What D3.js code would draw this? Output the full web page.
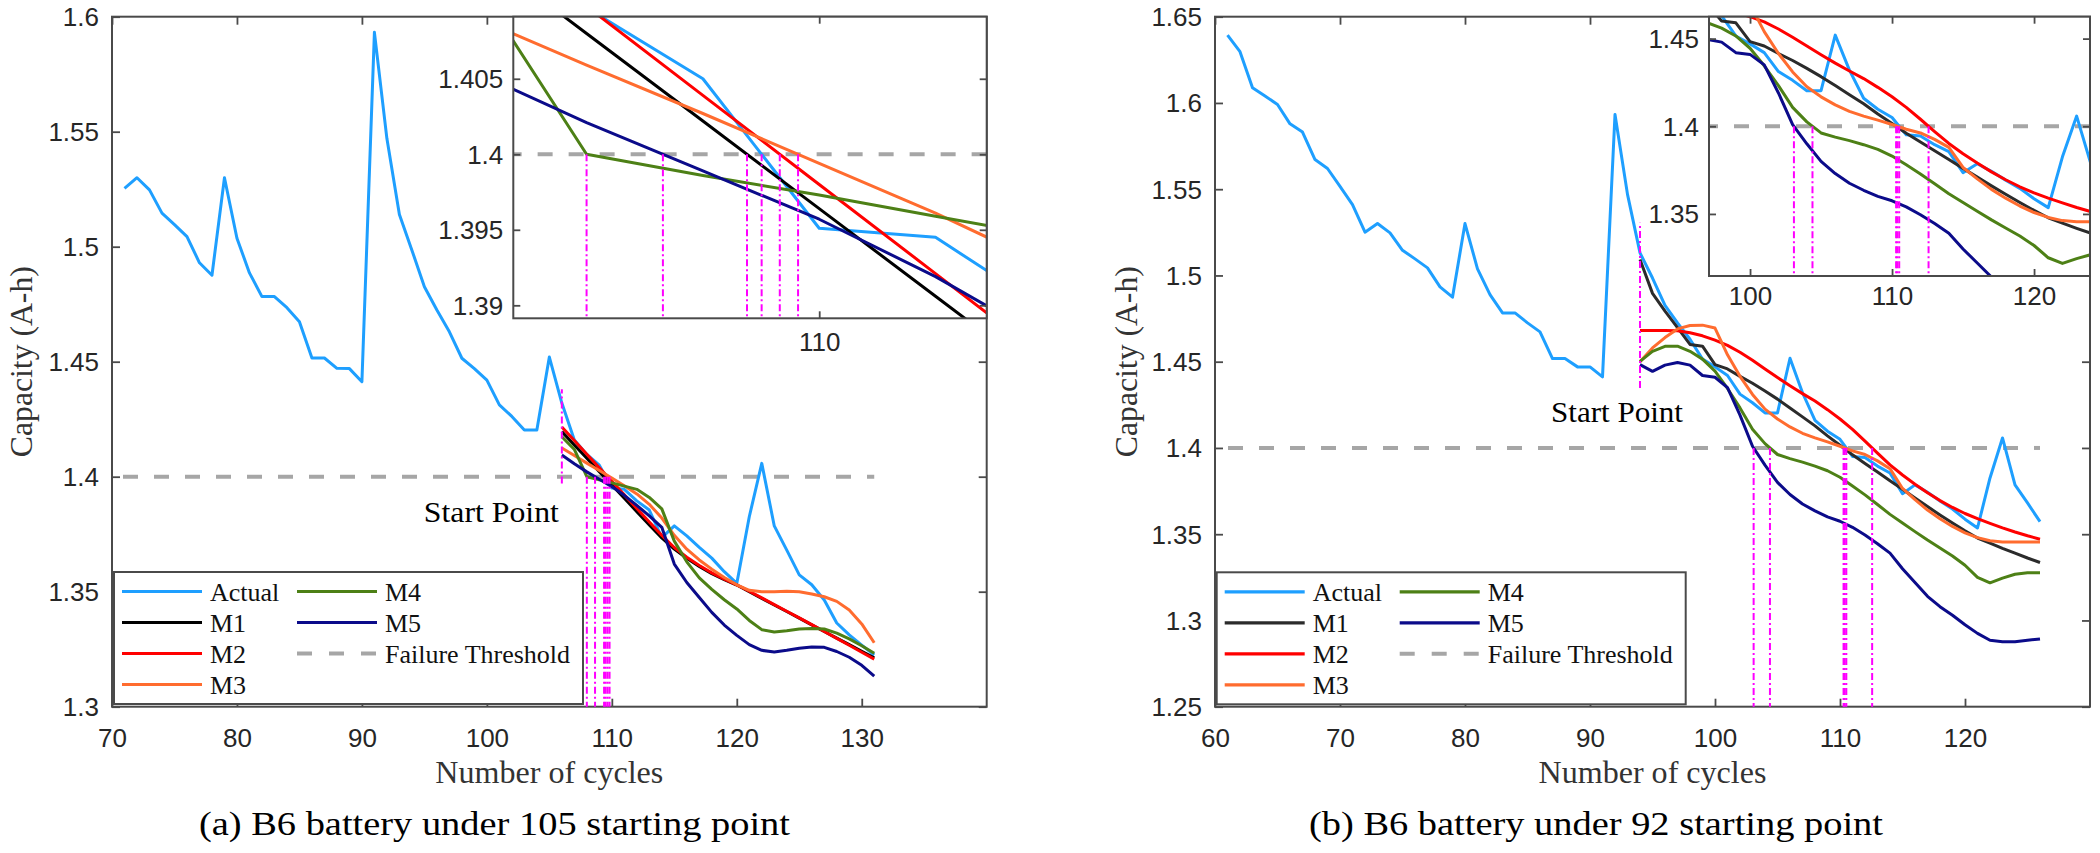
<!DOCTYPE html>
<html>
<head>
<meta charset="utf-8">
<script src="https://cdn.jsdelivr.net/npm/d3@7"></script>
<style>
  body { margin: 0; background: #fff; }
  svg { display: block; }
</style>
</head>
<body>
<svg id="chart" width="2100" height="853"></svg>
<script>
// ---------------- data ----------------
var seriesNames = ["Actual", "M1", "M2", "M3", "M4", "M5"];
var failureThreshold = 1.4;

// (a) start point 105 : actual capacity from cycle 71, models from cycle 106
var actualStartA = 71;
var actualA = [1.5254, 1.5300, 1.5247, 1.5146, 1.5096, 1.5044, 1.4930, 1.4876, 1.5300, 1.5037,
  1.4886, 1.4783, 1.4783, 1.4735, 1.4674, 1.4516, 1.4516, 1.4471, 1.4470, 1.4413,
  1.5932, 1.5470, 1.5140, 1.4985, 1.4826, 1.4725, 1.4630, 1.4515, 1.4470, 1.4420,
  1.4312, 1.4262, 1.4203, 1.4203, 1.4520, 1.4320, 1.4160, 1.4097, 1.4050, 1.3951,
  1.3945, 1.3895, 1.3855, 1.3735, 1.3786, 1.3743, 1.3693, 1.3646, 1.3587, 1.3536,
  1.3826, 1.4058, 1.3786, 1.3681, 1.3573, 1.3530, 1.3464, 1.3364, 1.3312, 1.3268, 1.3225];
var modelStartA = 106;
var m1A = [1.4196, 1.4138, 1.4080, 1.4022, 1.3964, 1.3906, 1.3848, 1.3790, 1.3734, 1.3685, 1.3645, 1.3610, 1.3578,
  1.3552, 1.3529, 1.3500, 1.3471, 1.3442, 1.3414, 1.3385, 1.3356, 1.3327, 1.3298, 1.3270, 1.3241, 1.3212];
var m2A = [1.4216, 1.4157, 1.4098, 1.4039, 1.3980, 1.3921, 1.3862, 1.3803, 1.3745, 1.3692, 1.3650, 1.3614, 1.3582,
  1.3555, 1.3530, 1.3502, 1.3473, 1.3444, 1.3415, 1.3386, 1.3357, 1.3327, 1.3297, 1.3267, 1.3237, 1.3207];
var m3A = [1.4125, 1.4092, 1.4059, 1.4027, 1.3994, 1.3961, 1.3925, 1.3880, 1.3820, 1.3745, 1.3685, 1.3638, 1.3598,
  1.3562, 1.3530, 1.3506, 1.3500, 1.3500, 1.3502, 1.3500, 1.3490, 1.3478, 1.3458, 1.3420, 1.3360, 1.3278];
var m4A = [1.4174, 1.4119, 1.4000, 1.3986, 1.3973, 1.3959, 1.3945, 1.3910, 1.3860, 1.3720, 1.3630, 1.3560, 1.3510,
  1.3465, 1.3425, 1.3375, 1.3335, 1.3325, 1.3330, 1.3338, 1.3340, 1.3338, 1.3320, 1.3295, 1.3265, 1.3232];
var m5A = [1.4094, 1.4056, 1.4021, 1.3989, 1.3957, 1.3919, 1.3875, 1.3830, 1.3780, 1.3620, 1.3540, 1.3475, 1.3410,
  1.3355, 1.3310, 1.3270, 1.3245, 1.3238, 1.3245, 1.3254, 1.3260, 1.3258, 1.3240, 1.3215, 1.3180, 1.3133];
var startLineA = [1.397, 1.438];

// (b) start point 92 : actual capacity from cycle 61, models from cycle 94
var actualStartB = 61;
var actualB = [1.6393, 1.6297, 1.6088, 1.6040, 1.5991, 1.5879, 1.5831, 1.5672, 1.5620, 1.5517,
  1.5411, 1.5251, 1.5301, 1.5247, 1.5146, 1.5096, 1.5044, 1.4934, 1.4874, 1.5301,
  1.5038, 1.4889, 1.4783, 1.4783, 1.4725, 1.4673, 1.4518, 1.4518, 1.4470, 1.4470,
  1.4412, 1.5933, 1.5470, 1.5131, 1.4985, 1.4826, 1.4725, 1.4630, 1.4515, 1.4470,
  1.4420, 1.4312, 1.4262, 1.4203, 1.4203, 1.4520, 1.4320, 1.4160, 1.4097, 1.4050,
  1.3951, 1.3945, 1.3895, 1.3855, 1.3735, 1.3786, 1.3743, 1.3693, 1.3646, 1.3587,
  1.3536, 1.3826, 1.4058, 1.3786, 1.3681, 1.3573];
var modelStartB = 94;
var m1B = [1.5092, 1.4896, 1.4793, 1.4698, 1.4600, 1.4590, 1.4483, 1.4458, 1.4415, 1.4375, 1.4330, 1.4283, 1.4232,
  1.4180, 1.4128, 1.4070, 1.4016, 1.3960, 1.3910, 1.3860, 1.3810, 1.3760, 1.3710, 1.3660, 1.3612, 1.3565,
  1.3520, 1.3478, 1.3448, 1.3418, 1.3390, 1.3362, 1.3336];
var m2B = [1.4681, 1.4681, 1.4681, 1.4680, 1.4668, 1.4650, 1.4625, 1.4595, 1.4555, 1.4508, 1.4458, 1.4408, 1.4360,
  1.4315, 1.4272, 1.4222, 1.4168, 1.4108, 1.4040, 1.3970, 1.3902, 1.3843, 1.3790, 1.3740, 1.3695, 1.3655,
  1.3620, 1.3590, 1.3563, 1.3537, 1.3513, 1.3491, 1.3471];
var m3B = [1.4500, 1.4580, 1.4640, 1.4690, 1.4710, 1.4712, 1.4695, 1.4540, 1.4415, 1.4310, 1.4225, 1.4168, 1.4122,
  1.4085, 1.4058, 1.4035, 1.4010, 1.3983, 1.3962, 1.3925, 1.3880, 1.3765, 1.3700, 1.3640, 1.3590, 1.3545,
  1.3508, 1.3480, 1.3462, 1.3455, 1.3455, 1.3455, 1.3455];
var m4B = [1.4502, 1.4560, 1.4589, 1.4590, 1.4560, 1.4515, 1.4445, 1.4345, 1.4232, 1.4108, 1.4025, 1.3962, 1.3938,
  1.3918, 1.3895, 1.3868, 1.3830, 1.3780, 1.3728, 1.3672, 1.3615, 1.3565, 1.3515, 1.3466, 1.3420, 1.3374,
  1.3320, 1.3250, 1.3218, 1.3245, 1.3268, 1.3277, 1.3277];
var m5B = [1.4483, 1.4444, 1.4480, 1.4495, 1.4480, 1.4420, 1.4410, 1.4350, 1.4190, 1.4010, 1.3900, 1.3800, 1.3730,
  1.3675, 1.3635, 1.3600, 1.3575, 1.3540, 1.3495, 1.3445, 1.3390, 1.3300, 1.3220, 1.3140, 1.3080, 1.3030,
  1.2975, 1.2925, 1.2885, 1.2877, 1.2877, 1.2885, 1.2893];
var startLineB = [1.4348, 1.5305];

// axis ticks
var xTicksA = [70, 80, 90, 100, 110, 120, 130];
var yTicksA = [1.3, 1.35, 1.4, 1.45, 1.5, 1.55, 1.6];
var xTicksB = [60, 70, 80, 90, 100, 110, 120];
var yTicksB = [1.25, 1.3, 1.35, 1.4, 1.45, 1.5, 1.55, 1.6, 1.65];
var insetXTicksA = [110];
var insetYTicksA = [1.39, 1.395, 1.4, 1.405];
var insetXTicksB = [100, 110, 120];
var insetYTicksB = [1.35, 1.4, 1.45];

var captionA = "(a) B6 battery under 105 starting point";
var captionB = "(b) B6 battery under 92 starting point";

// ---------------- drawing ----------------
var colorsA = ["#1e9fff", "#000000", "#ff0000", "#ff6c2f", "#4d8016", "#0b0b8a"];
var colorsB = ["#1e9fff", "#2b2b2b", "#ff0000", "#ff6c2f", "#4d8016", "#0b0b8a"];
var axisColor = "#4a4a4a";
var labelColor = "#262626";
var sansFont = "'Liberation Sans', Arial, sans-serif";
var serifFont = "'Liberation Serif', 'Times New Roman', serif";

var svg = d3.select("#chart");

function toPoints(start, values) {
  return values.map(function (v, i) { return [start + i, v]; });
}

function firstCrossing(pts, level) {
  for (var i = 1; i < pts.length; i++) {
    var a = pts[i - 1], b = pts[i];
    if (a[1] >= level && b[1] < level) {
      return a[0] + (a[1] - level) / (a[1] - b[1]) * (b[0] - a[0]);
    }
  }
  return null;
}

var fmt = function (d) { return String(+d.toFixed(3)); };

// box with inward ticks on four sides
function drawFrame(g, x, y, xt, yt, o) {
  var r = x.range(), t = y.range();
  g.append("rect")
    .attr("x", r[0]).attr("y", t[1])
    .attr("width", r[1] - r[0]).attr("height", t[0] - t[1])
    .attr("fill", o.fill || "none");

  var bottom = g.append("g").attr("transform", "translate(0," + t[0] + ")")
    .call(d3.axisBottom(x).tickValues(xt).tickFormat(fmt).tickSizeInner(-o.tick).tickSizeOuter(0).tickPadding(o.xPad));
  var top = g.append("g").attr("transform", "translate(0," + t[1] + ")")
    .call(d3.axisTop(x).tickValues(xt).tickFormat("").tickSizeInner(-o.tick).tickSizeOuter(0));
  var left = g.append("g").attr("transform", "translate(" + r[0] + ",0)")
    .call(d3.axisLeft(y).tickValues(yt).tickFormat(fmt).tickSizeInner(-o.tick).tickSizeOuter(0).tickPadding(o.yPad));
  var right = g.append("g").attr("transform", "translate(" + r[1] + ",0)")
    .call(d3.axisRight(y).tickValues(yt).tickFormat("").tickSizeInner(-o.tick).tickSizeOuter(0));

  [bottom, top, left, right].forEach(function (a) {
    a.select(".domain").remove();
    a.selectAll("line").attr("stroke", axisColor).attr("stroke-width", 1.8);
    a.selectAll("text").attr("font-family", sansFont).attr("font-size", 26).attr("fill", labelColor);
  });
  left.selectAll("text").attr("dy", "0.34em");

  g.append("rect")
    .attr("x", r[0]).attr("y", t[1])
    .attr("width", r[1] - r[0]).attr("height", t[0] - t[1])
    .attr("fill", "none").attr("stroke", axisColor).attr("stroke-width", 2);
}

function drawContent(g, x, y, p, dashOffset) {
  var line = d3.line().x(function (d) { return x(d[0]); }).y(function (d) { return y(d[1]); });

  g.append("path")
    .attr("d", line([[p.thresholdFrom, failureThreshold], [p.thresholdTo, failureThreshold]]))
    .attr("stroke", "#a6a6a6").attr("stroke-width", 4)
    .attr("stroke-dasharray", "15,16").attr("stroke-dashoffset", dashOffset)
    .attr("fill", "none");

  p.series.forEach(function (s, i) {
    g.append("path").attr("d", line(s))
      .attr("fill", "none").attr("stroke", p.colors[i])
      .attr("stroke-width", 3).attr("stroke-linejoin", "round");
  });

  var yLow = y.domain()[0];
  p.series.forEach(function (s) {
    var c = firstCrossing(s, failureThreshold);
    if (c === null) return;
    g.append("path").attr("d", line([[c, failureThreshold], [c, yLow]]))
      .attr("stroke", "#ff00ff").attr("stroke-width", 2)
      .attr("stroke-dasharray", "7,3,2,3").attr("fill", "none");
  });
}

function drawPanel(p) {
  var g = svg.append("g");
  var x = d3.scaleLinear().domain(p.xDomain).range([p.left, p.right]);
  var y = d3.scaleLinear().domain(p.yDomain).range([p.bottom, p.top]);
  var line = d3.line().x(function (d) { return x(d[0]); }).y(function (d) { return y(d[1]); });

  drawFrame(g, x, y, p.xTicks, p.yTicks, { tick: 8, xPad: 21.5, yPad: 13 });
  drawContent(g, x, y, p, p.dashOffset);

  // start point marker
  g.append("path").attr("d", line([[p.modelStart, p.startLine[0]], [p.modelStart, p.startLine[1]]]))
    .attr("stroke", "#ff00ff").attr("stroke-width", 2)
    .attr("stroke-dasharray", "7,3,2,3").attr("fill", "none");
  g.append("text")
    .attr("x", x(p.startText[0])).attr("y", y(p.startText[1]))
    .attr("text-anchor", "end")
    .attr("font-family", serifFont).attr("font-size", 30).attr("fill", "#000")
    .attr("textLength", p.startTextLen).attr("lengthAdjust", "spacingAndGlyphs")
    .text("Start Point");

  // inset
  var ix = d3.scaleLinear().domain(p.inset.xDomain).range([p.inset.left, p.right]);
  var iy = d3.scaleLinear().domain(p.inset.yDomain).range([p.inset.bottom, p.top]);
  var ig = svg.append("g");
  ig.append("rect")
    .attr("x", p.inset.left).attr("y", p.top)
    .attr("width", p.right - p.inset.left).attr("height", p.inset.bottom - p.top)
    .attr("fill", "#fff");
  var clipId = p.id + "-clip";
  svg.append("clipPath").attr("id", clipId).append("rect")
    .attr("x", p.inset.left).attr("y", p.top)
    .attr("width", p.right - p.inset.left).attr("height", p.inset.bottom - p.top);
  var inner = ig.append("g").attr("clip-path", "url(#" + clipId + ")");
  drawContent(inner, ix, iy, p, p.inset.dashOffset);
  drawFrame(ig, ix, iy, p.inset.xTicks, p.inset.yTicks, { tick: 7, xPad: p.inset.xPad, yPad: 10 });

  // legend
  var lg = svg.append("g").attr("transform", "translate(" + p.legend[0] + "," + p.legend[1] + ")");
  lg.append("rect").attr("width", 469).attr("height", 132)
    .attr("fill", "#fff").attr("stroke", axisColor).attr("stroke-width", 2);
  var entries = seriesNames.map(function (n, i) { return { name: n, color: p.colors[i], dash: null }; });
  entries.push({ name: "Failure Threshold", color: "#a6a6a6", dash: "15,17" });
  var slots = [[0, 0], [0, 1], [0, 2], [0, 3], [1, 0], [1, 1], [1, 2]];
  entries.forEach(function (e, i) {
    var cx = slots[i][0] === 0 ? 8 : 183;
    var cy = 19.5 + slots[i][1] * 31;
    lg.append("line").attr("x1", cx).attr("x2", cx + 80).attr("y1", cy).attr("y2", cy)
      .attr("stroke", e.color).attr("stroke-width", e.dash ? 4 : 3.2)
      .attr("stroke-dasharray", e.dash);
    lg.append("text").attr("x", cx + 88).attr("y", cy + 9)
      .attr("font-family", serifFont).attr("font-size", 26).attr("fill", "#111")
      .text(e.name);
  });

  // axis titles and caption
  var midX = (p.left + p.right) / 2;
  svg.append("text").attr("x", midX).attr("y", 783)
    .attr("text-anchor", "middle").attr("font-family", serifFont).attr("font-size", 31)
    .attr("fill", "#333").attr("textLength", 228).attr("lengthAdjust", "spacingAndGlyphs")
    .text("Number of cycles");
  svg.append("text")
    .attr("transform", "translate(" + p.yLabelX + "," + ((p.top + p.bottom) / 2) + ") rotate(-90)")
    .attr("text-anchor", "middle").attr("font-family", serifFont).attr("font-size", 31)
    .attr("fill", "#333").attr("textLength", 191).attr("lengthAdjust", "spacingAndGlyphs")
    .text("Capacity (A-h)");
  svg.append("text").attr("x", p.captionX).attr("y", 835)
    .attr("text-anchor", "middle").attr("font-family", serifFont).attr("font-size", 34)
    .attr("fill", "#000").attr("textLength", p.captionLen).attr("lengthAdjust", "spacingAndGlyphs")
    .text(p.caption);
}

drawPanel({
  id: "a", colors: colorsA,
  left: 112, right: 986.7, top: 16.7, bottom: 706.7,
  xDomain: [70, 140], yDomain: [1.3, 1.6],
  xTicks: xTicksA, yTicks: yTicksA,
  series: [toPoints(actualStartA, actualA), toPoints(modelStartA, m1A), toPoints(modelStartA, m2A),
           toPoints(modelStartA, m3A), toPoints(modelStartA, m4A), toPoints(modelStartA, m5A)],
  thresholdFrom: 70, thresholdTo: 131, dashOffset: 20,
  modelStart: modelStartA, startLine: startLineA,
  startText: [105.76, 1.3804], startTextLen: 135,
  inset: { left: 513.3, bottom: 318.3, xDomain: [107.37, 111.44], yDomain: [1.38914, 1.40911],
           xTicks: insetXTicksA, yTicks: insetYTicksA, xPad: 14.5, dashOffset: 0 },
  legend: [114, 572],
  yLabelX: 32, captionX: 494.5, captionLen: 591, caption: captionA
});

drawPanel({
  id: "b", colors: colorsB,
  left: 1215, right: 2090, top: 16.7, bottom: 706.7,
  xDomain: [60, 130], yDomain: [1.25, 1.65],
  xTicks: xTicksB, yTicks: yTicksB,
  series: [toPoints(actualStartB, actualB), toPoints(modelStartB, m1B), toPoints(modelStartB, m2B),
           toPoints(modelStartB, m3B), toPoints(modelStartB, m4B), toPoints(modelStartB, m5B)],
  thresholdFrom: 60, thresholdTo: 126, dashOffset: 18,
  modelStart: modelStartB, startLine: startLineB,
  startText: [97.44, 1.4153], startTextLen: 132,
  inset: { left: 1709, bottom: 276, xDomain: [97.11, 123.94], yDomain: [1.3146, 1.4625],
           xTicks: insetXTicksB, yTicks: insetYTicksB, xPad: 10.5, dashOffset: 6 },
  legend: [1216.7, 572.3],
  yLabelX: 1137, captionX: 1596, captionLen: 574, caption: captionB
});
</script>
</body>
</html>
